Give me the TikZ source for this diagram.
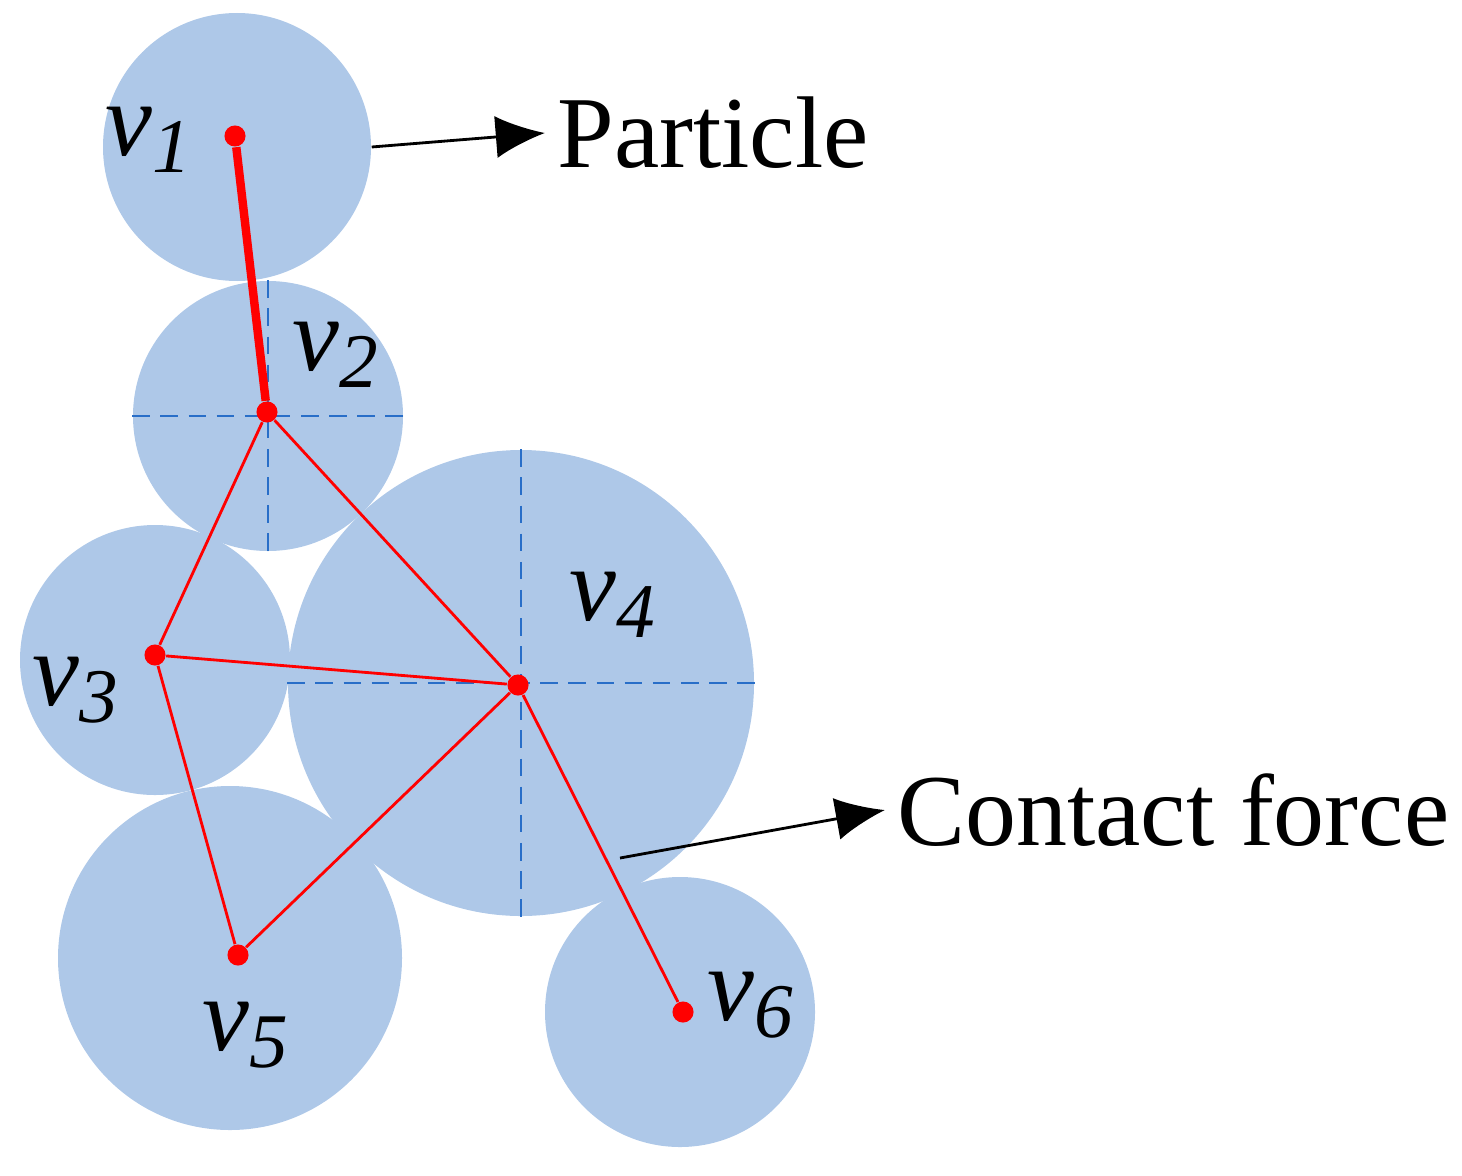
\documentclass[tikz,border=0pt]{standalone}
\usepackage{fontspec}
\setmainfont{Liberation Serif}
\usetikzlibrary{arrows.meta}
\tikzset{
    grain/.style={circle, fill=blue!30!cyan!25!white, fill=particlefill, inner sep=0pt},
    axis/.style={dash pattern=on 5pt off 3pt, thin, draw=axisblue},
    contact/.style={draw=red, thick},
    dot/.style={circle, fill=red, inner sep=0pt, minimum size=6pt},
    vlabel/.style={font=\fontsize{30}{30}\selectfont\itshape},
    pointer/.style={-{Latex[length=14pt,width=12pt]}, thick},
}
\definecolor{particlefill}{RGB}{174,200,232}
\definecolor{axisblue}{RGB}{40,110,200}
\newcommand{\vsub}[1]{v\raisebox{-0.35ex}{\fontsize{22}{22}\selectfont #1}}
\begin{document}
\begin{tikzpicture}
    \useasboundingbox (0,0) rectangle (14.62,-11.75);
    % particles
    \node [grain, minimum size=2.68cm] (c1) at (2.37,-1.47) {};
    \node [grain, minimum size=2.70cm] (c2) at (2.68,-4.16) {};
    \node [grain, minimum size=2.70cm] (c3) at (1.55,-6.60) {};
    \node [grain, minimum size=4.66cm] (c4) at (5.21,-6.83) {};
    \node [grain, minimum size=3.44cm] (c5) at (2.30,-9.58) {};
    \node [grain, minimum size=2.70cm] (c6) at (6.80,-10.12) {};
    % axes
    \draw [axis] (c2.west) -- (c2.east);
    \draw [axis] (c2.north) -- (c2.south);
    \draw [axis] (c4.west) -- (c4.east);
    \draw [axis] (c4.north) -- (c4.south);
    % centres
    \node [dot] (v1) at (2.35,-1.36) {};
    \node [dot] (v2) at (2.67,-4.12) {};
    \node [dot] (v3) at (1.55,-6.55) {};
    \node [dot] (v4) at (5.18,-6.85) {};
    \node [dot] (v5) at (2.38,-9.55) {};
    \node [dot] (v6) at (6.83,-10.12) {};
    % contact forces
    \draw [contact, line width=2.4pt] (v1) -- (v2);
    \draw [contact] (v2) -- (v3);
    \draw [contact] (v2) -- (v4);
    \draw [contact] (v3) -- (v4);
    \draw [contact] (v3) -- (v5);
    \draw [contact] (v5) -- (v4);
    \draw [contact] (v4) -- (v6);
    % labels
    \node [vlabel] (l1) at (1.48,-1.40) {\vsub{1}};
    \node [vlabel] (l2) at (3.35,-3.55) {\vsub{2}};
    \node [vlabel] (l3) at (0.75,-6.90) {\vsub{3}};
    \node [vlabel] (l4) at (6.12,-6.05) {\vsub{4}};
    \node [vlabel] (l5) at (2.45,-10.35) {\vsub{5}};
    \node [vlabel] (l6) at (7.50,-10.05) {\vsub{6}};
    % annotations
    \node [font=\fontsize{29}{29}\selectfont, anchor=west] (particle) at (5.45,-1.33) {Particle};
    \node [font=\fontsize{29}{29}\selectfont, anchor=west] (force) at (8.85,-8.10) {Contact force};
    \coordinate (cf) at (6.20,-8.58);
    \draw [pointer] (c1.east) -- (particle.west);
    \draw [pointer] (cf) -- (force.west);
\end{tikzpicture}
\end{document}
